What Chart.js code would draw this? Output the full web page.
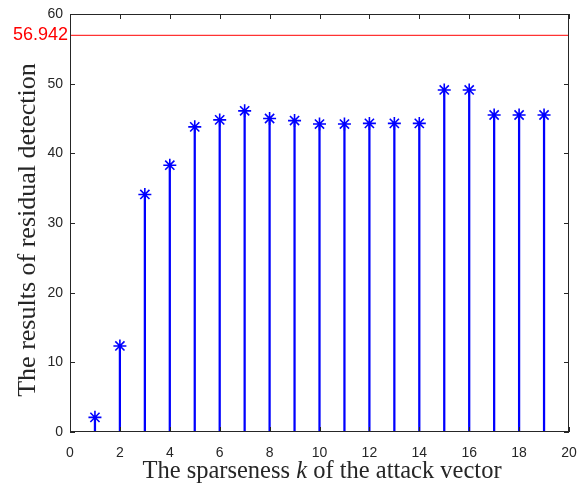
<!DOCTYPE html>
<html>
<head>
<meta charset="utf-8">
<script src="https://cdn.jsdelivr.net/npm/chart.js@4"></script>
<style>
  html, body { margin: 0; padding: 0; background: #fff; }
  #wrap { width: 578px; height: 485px; }
</style>
</head>
<body>
<div id="wrap"><canvas id="chart" width="578" height="485"></canvas></div>
<script>
// Data
const sparseness = [1, 2, 3, 4, 5, 6, 7, 8, 9, 10, 11, 12, 13, 14, 15, 16, 17, 18, 19];
const residuals = [2.1, 12.35, 34.1, 38.3, 43.8, 44.8, 46.1, 45.0, 44.7, 44.2, 44.2, 44.3, 44.3, 44.3, 49.1, 49.1, 45.5, 45.5, 45.5];
const threshold = 56.942;
const xTicks = [0, 2, 4, 6, 8, 10, 12, 14, 16, 18, 20];
const yTicks = [0, 10, 20, 30, 40, 50, 60];

const axisColor = '#262626';
const stemColor = '#0000ff';

const points = sparseness.map((k, i) => ({ x: k, y: residuals[i] }));

// box, inward ticks, threshold label and axis titles (MATLAB style)
const matlabAxes = {
    id: 'matlabAxes',
    afterDraw(chart) {
        const { ctx, chartArea: a, scales } = chart;
        ctx.save();
        ctx.strokeStyle = axisColor;
        ctx.lineWidth = 1;
        ctx.strokeRect(a.left + 0.5, a.top + 0.5, a.right - a.left - 1, a.bottom - a.top - 1);

        const len = 5;
        ctx.beginPath();
        xTicks.forEach(v => {
            const px = Math.round(scales.x.getPixelForValue(v)) + 0.5;
            ctx.moveTo(px, a.bottom); ctx.lineTo(px, a.bottom - len);
            ctx.moveTo(px, a.top); ctx.lineTo(px, a.top + len);
        });
        yTicks.forEach(v => {
            const py = Math.round(scales.y.getPixelForValue(v)) + 0.5;
            ctx.moveTo(a.left, py); ctx.lineTo(a.left + len, py);
            ctx.moveTo(a.right, py); ctx.lineTo(a.right - len, py);
        });
        ctx.stroke();

        // threshold value on the left
        ctx.fillStyle = '#ff0000';
        ctx.font = '18px "Liberation Sans", Arial, sans-serif';
        ctx.textAlign = 'right';
        ctx.textBaseline = 'middle';
        ctx.fillText(threshold.toFixed(3), a.left - 2, scales.y.getPixelForValue(threshold));

        // x title with italic k
        const serif = '"Liberation Serif", "Times New Roman", serif';
        const parts = [
            { t: 'The sparseness ', f: '24.5px ' + serif },
            { t: 'k', f: 'italic 24.5px ' + serif },
            { t: ' of the attack vector', f: '24.5px ' + serif }
        ];
        let total = 0;
        parts.forEach(p => { ctx.font = p.f; p.w = ctx.measureText(p.t).width; total += p.w; });
        let x = 322 - total / 2;
        ctx.fillStyle = axisColor;
        ctx.textAlign = 'left';
        ctx.textBaseline = 'alphabetic';
        parts.forEach(p => { ctx.font = p.f; ctx.fillText(p.t, x, 478); x += p.w; });

        // y title
        ctx.translate(35, 230);
        ctx.rotate(-Math.PI / 2);
        ctx.font = '26px ' + serif;
        ctx.textAlign = 'center';
        ctx.fillText('The results of residual detection', 0, 0);
        ctx.restore();
    }
};

new Chart(document.getElementById('chart'), {
    type: 'bar',
    data: {
        datasets: [
            {
                type: 'line',
                label: 'Threshold',
                data: [{ x: 0, y: threshold }, { x: 20, y: threshold }],
                borderColor: '#ff0000',
                borderWidth: 1,
                pointRadius: 0,
                fill: false
            },
            {
                type: 'scatter',
                label: 'Marker',
                data: points,
                pointStyle: 'star',
                pointRadius: 6.5,
                borderColor: stemColor,
                borderWidth: 1.6,
                backgroundColor: stemColor
            },
            {
                type: 'bar',
                label: 'Stem',
                data: points,
                backgroundColor: stemColor,
                barThickness: 1.6
            }
        ]
    },
    options: {
        responsive: false,
        animation: false,
        layout: { padding: { top: 14, right: 9, left: 0, bottom: 0 } },
        plugins: {
            legend: { display: false },
            tooltip: { enabled: false }
        },
        scales: {
            x: {
                type: 'linear',
                min: 0,
                max: 20,
                offset: false,
                afterFit(scale) {
                    scale.height = 53;
                    scale.paddingLeft = 0;
                    scale.paddingRight = 0;
                },
                afterBuildTicks(scale) { scale.ticks = xTicks.map(v => ({ value: v })); },
                grid: { display: false, drawTicks: false },
                border: { display: false },
                ticks: {
                    color: axisColor,
                    padding: 13,
                    maxRotation: 0,
                    font: { family: '"Liberation Sans", Arial, sans-serif', size: 14 }
                }
            },
            y: {
                type: 'linear',
                min: 0,
                max: 60,
                afterFit(scale) {
                    scale.width = 70;
                    scale.paddingTop = 0;
                    scale.paddingBottom = 0;
                },
                afterBuildTicks(scale) { scale.ticks = yTicks.map(v => ({ value: v })); },
                grid: { display: false, drawTicks: false },
                border: { display: false },
                ticks: {
                    color: axisColor,
                    padding: 7,
                    font: { family: '"Liberation Sans", Arial, sans-serif', size: 14 }
                }
            }
        }
    },
    plugins: [matlabAxes]
});
</script>
</body>
</html>
